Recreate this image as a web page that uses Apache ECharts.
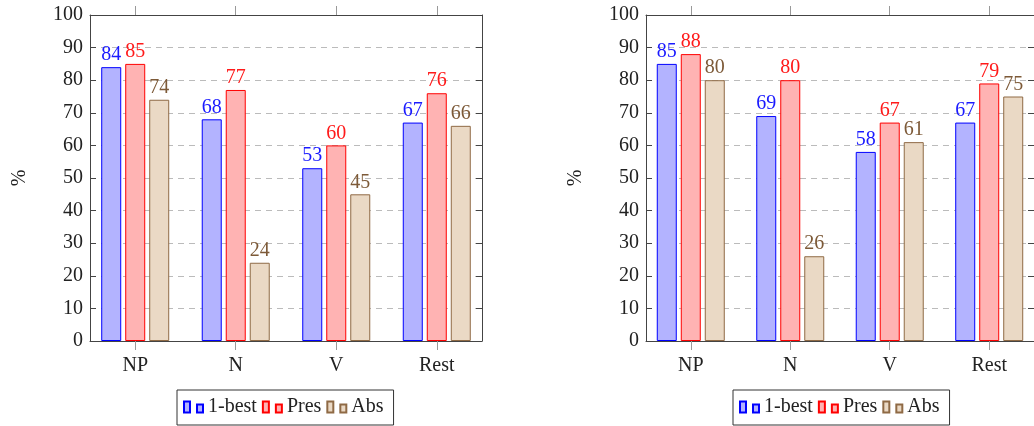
<!DOCTYPE html>
<html>
<head>
<meta charset="utf-8">
<script src="https://cdn.jsdelivr.net/npm/echarts@6/dist/echarts.min.js"></script>
<style>
html,body{margin:0;padding:0;background:#fff;}
#c{width:1034px;height:426px;}
</style>
</head>
<body>
<div id="c"></div>
<script>
const categories = ['NP', 'N', 'V', 'Rest'];
const seriesNames = ['1-best', 'Pres', 'Abs'];
const yTicks = [0, 10, 20, 30, 40, 50, 60, 70, 80, 90, 100];

const leftBest = [84, 68, 53, 67];
const leftPres = [85, 77, 60, 76];
const leftAbs  = [74, 24, 45, 66];

const rightBest = [85, 69, 58, 67];
const rightPres = [88, 80, 67, 79];
const rightAbs  = [80, 26, 61, 75];

const FONT = '"Liberation Serif", "DejaVu Serif", serif';
const FS = 20;
const styles = [
  {fill: '#b3b3ff', stroke: '#0000ff', label: '#1a1aff'},
  {fill: '#ffb3b3', stroke: '#ff0000', label: '#ff1a1a'},
  {fill: '#ead9c5', stroke: '#8f6a45', label: '#7d5a38'}
];
const catIdx = categories.map((c, i) => i);

function xAxes(gi) {
  const base = {
    type: 'value', gridIndex: gi, min: -0.45, max: 3.45,
    splitLine: {show: false},
    axisLine: {show: true, onZero: false, lineStyle: {color: '#444', width: 1}},
  };
  return [
    Object.assign({}, base, {
      position: 'bottom',
      axisTick: {show: true, inside: false, length: 9, customValues: catIdx, lineStyle: {color: '#999'}},
      axisLabel: {show: true, customValues: catIdx, margin: 15, fontFamily: FONT, fontSize: FS, color: '#222',
        formatter: v => categories[Math.round(v)]}
    }),
    Object.assign({}, base, {
      position: 'top',
      axisTick: {show: true, inside: false, length: 9, customValues: catIdx, lineStyle: {color: '#999'}},
      axisLabel: {show: false}
    })
  ];
}
function yAxes(gi) {
  const base = {
    type: 'value', gridIndex: gi, min: 0, max: 100, interval: 10,
    axisLine: {show: true, onZero: false, lineStyle: {color: '#444', width: 1}},
    axisTick: {show: true, inside: true, length: 6, lineStyle: {color: '#444'}},
  };
  return [
    Object.assign({}, base, {
      position: 'left',
      name: '%', nameLocation: 'middle', nameGap: 60,
      nameTextStyle: {fontFamily: FONT, fontSize: FS, color: '#222'},
      splitLine: {show: true, lineStyle: {color: '#bbb', type: [6, 5], width: 1}},
      axisLabel: {show: true, margin: 7, fontFamily: FONT, fontSize: FS, color: '#222',
        formatter: v => String(yTicks[Math.round(v / 10)])}
    }),
    Object.assign({}, base, {
      position: 'right',
      splitLine: {show: false},
      axisLabel: {show: false}
    })
  ];
}

function makeSeries(gi, arrays) {
  return arrays.map((arr, si) => ({
    type: 'bar',
    name: seriesNames[si],
    xAxisIndex: gi * 2,
    yAxisIndex: gi * 2,
    barWidth: 20,
    barGap: '20%',
    data: arr.map((v, i) => [catIdx[i], v]),
    itemStyle: {color: styles[si].fill, borderColor: styles[si].stroke, borderWidth: 1},
    label: {show: true, position: 'top', distance: 2, fontFamily: FONT, fontSize: FS,
      color: styles[si].label, formatter: p => String(p.value[1])},
    emphasis: {disabled: true},
    animation: false
  }));
}

const legendIcon = 'path://M0,0h6v11h-6zM13,3h6v8h-6z';
function legend(left) {
  return {
    left: left, top: 390, orient: 'horizontal',
    data: seriesNames, icon: legendIcon, itemWidth: 19, itemHeight: 11, itemGap: 5,
    symbolKeepAspect: false,
    borderColor: '#333', borderWidth: 1, padding: [7, 10, 8, 6],
    textStyle: {fontFamily: FONT, fontSize: FS, color: '#222'},
    selectedMode: false
  };
}

const option = {
  backgroundColor: '#fff',
  animation: false,
  grid: [
    {left: 90, top: 15, width: 392, height: 326},
    {left: 646, top: 15, width: 392, height: 326}
  ],
  xAxis: [...xAxes(0), ...xAxes(1)],
  yAxis: [...yAxes(0), ...yAxes(1)],
  legend: [legend(177), legend(733)],
  series: [
    ...makeSeries(0, [leftBest, leftPres, leftAbs]),
    ...makeSeries(1, [rightBest, rightPres, rightAbs])
  ]
};

const chart = echarts.init(document.getElementById('c'), null, {renderer: 'canvas'});
chart.setOption(option);
</script>
</body>
</html>
